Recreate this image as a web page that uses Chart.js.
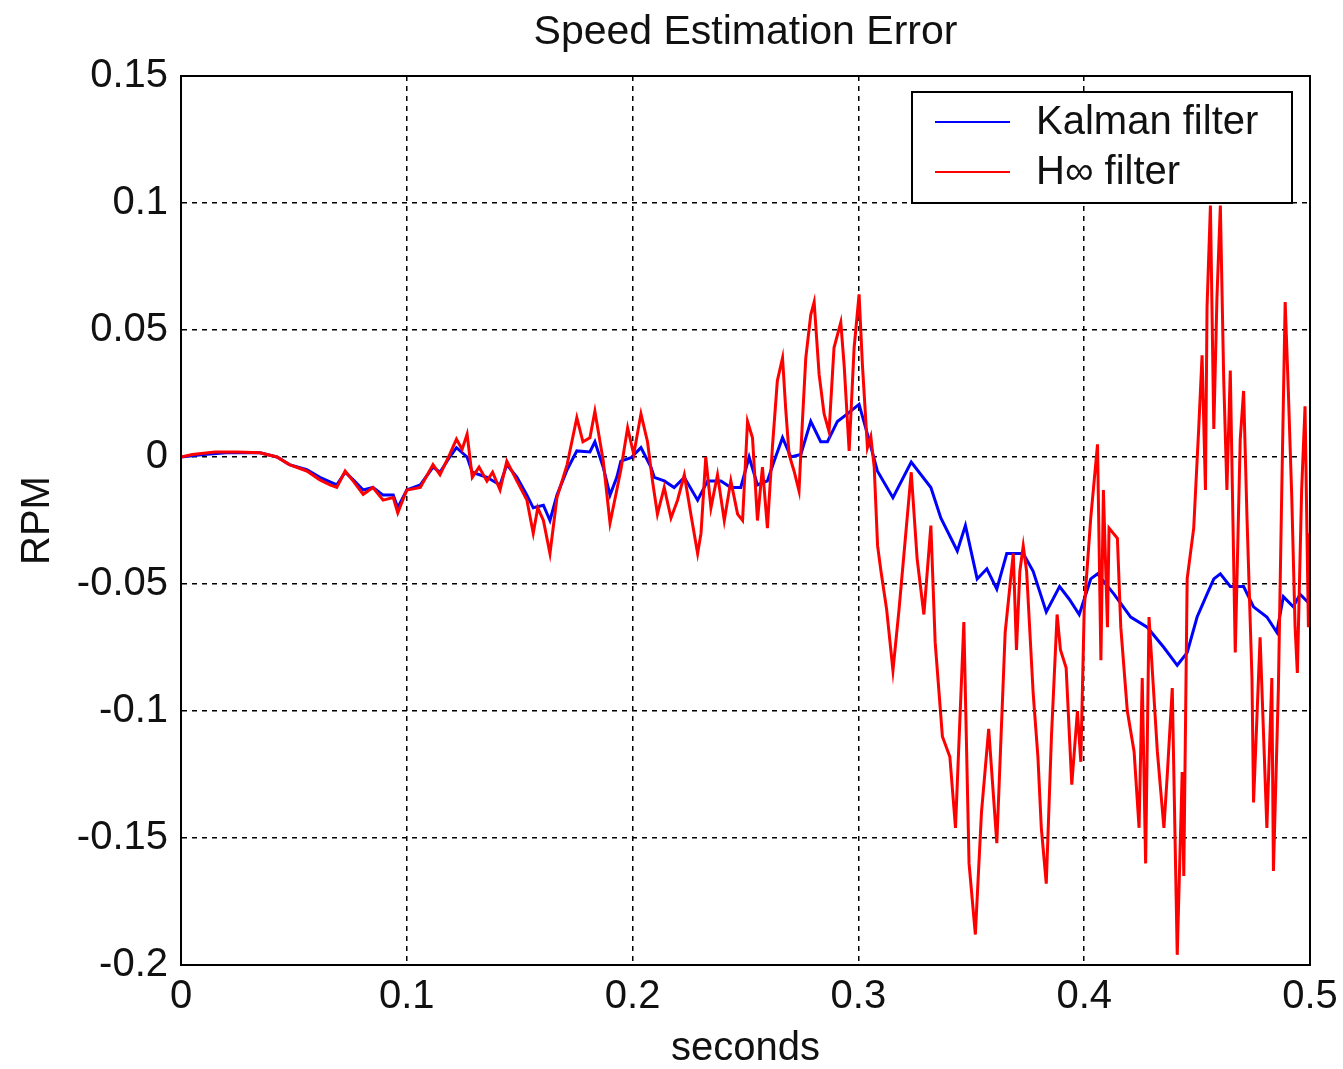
<!DOCTYPE html>
<html>
<head>
<meta charset="utf-8">
<script src="https://cdn.jsdelivr.net/npm/chart.js@4.4.1/dist/chart.umd.min.js"></script>
<style>
  html, body { margin: 0; padding: 0; background: #ffffff; }
  #wrap { width: 1343px; height: 1069px; }
</style>
</head>
<body>
<div id="wrap"><canvas id="c" width="1343" height="1069"></canvas></div>
<script>
const chartTitle = 'Speed Estimation Error';
const xAxisTitle = 'seconds';
const yAxisTitle = 'RPM';
const seriesNames = ['Kalman filter', 'H\u221E filter'];

const xTickValues = [0, 0.1, 0.2, 0.3, 0.4, 0.5];
const xTickLabels = ['0', '0.1', '0.2', '0.3', '0.4', '0.5'];
const yTickValues = [-0.2, -0.15, -0.1, -0.05, 0, 0.05, 0.1, 0.15];
const yTickLabels = ['-0.2', '-0.15', '-0.1', '-0.05', '0', '0.05', '0.1', '0.15'];

const kalmanTime = [0, 0.01, 0.02, 0.035, 0.0425, 0.048, 0.0557, 0.0615, 0.069, 0.0727, 0.0763, 0.0807, 0.085, 0.0895, 0.094, 0.096, 0.1, 0.106, 0.1116, 0.1147, 0.119, 0.122, 0.1267, 0.129, 0.1355, 0.1413, 0.1443, 0.1488, 0.1532, 0.156, 0.1605, 0.1634, 0.1665, 0.171, 0.1753, 0.1811, 0.1833, 0.187, 0.19, 0.193, 0.1948, 0.1993, 0.2037, 0.2081, 0.2096, 0.214, 0.2184, 0.2229, 0.2288, 0.2332, 0.2391, 0.2435, 0.2479, 0.2516, 0.2553, 0.2597, 0.2627, 0.2664, 0.2701, 0.2745, 0.2789, 0.2833, 0.2863, 0.2907, 0.2951, 0.3003, 0.304, 0.3084, 0.3153, 0.3234, 0.3321, 0.3365, 0.3438, 0.3474, 0.3526, 0.3569, 0.3613, 0.3657, 0.373, 0.3774, 0.3832, 0.3891, 0.3934, 0.3978, 0.4, 0.4029, 0.4059, 0.4132, 0.4206, 0.4279, 0.4353, 0.4412, 0.4456, 0.45, 0.4544, 0.4574, 0.4603, 0.4647, 0.4706, 0.475, 0.4809, 0.4853, 0.4882, 0.4926, 0.4956, 0.5];
const kalmanErr = [0, 0.001, 0.0017, 0.0017, 0, -0.003, -0.005, -0.008, -0.011, -0.006, -0.009, -0.013, -0.012, -0.015, -0.015, -0.02, -0.013, -0.011, -0.004, -0.006, 0, 0.0037, 0, -0.006, -0.008, -0.011, -0.003, -0.008, -0.015, -0.02, -0.019, -0.025, -0.015, -0.005, 0.0024, 0.002, 0.006, -0.004, -0.015, -0.008, -0.0016, -0.0003, 0.0037, -0.004, -0.008, -0.0094, -0.012, -0.008, -0.017, -0.0094, -0.0094, -0.012, -0.012, 0, -0.011, -0.0094, -0.0016, 0.0076, 0, 0.001, 0.014, 0.006, 0.006, 0.014, 0.017, 0.0207, 0.009, -0.0055, -0.016, -0.002, -0.012, -0.024, -0.037, -0.027, -0.048, -0.044, -0.052, -0.038, -0.038, -0.045, -0.061, -0.051, -0.056, -0.062, -0.056, -0.048, -0.046, -0.054, -0.063, -0.067, -0.075, -0.082, -0.077, -0.063, -0.054, -0.048, -0.046, -0.051, -0.051, -0.059, -0.063, -0.069, -0.055, -0.059, -0.054, -0.058];

const hinfTime = [0, 0.005, 0.015, 0.025, 0.035, 0.0425, 0.048, 0.0557, 0.0615, 0.066, 0.069, 0.0727, 0.0763, 0.0807, 0.085, 0.0895, 0.094, 0.096, 0.1, 0.106, 0.1116, 0.1147, 0.119, 0.122, 0.1245, 0.1267, 0.129, 0.132, 0.1355, 0.138, 0.1413, 0.1443, 0.1488, 0.1532, 0.156, 0.158, 0.1605, 0.1634, 0.1665, 0.171, 0.1753, 0.178, 0.1811, 0.1833, 0.187, 0.19, 0.193, 0.1948, 0.1978, 0.2005, 0.2037, 0.2066, 0.2088, 0.211, 0.214, 0.217, 0.2199, 0.2229, 0.2258, 0.2288, 0.2303, 0.2324, 0.2347, 0.2376, 0.2406, 0.2435, 0.2465, 0.2487, 0.2509, 0.2531, 0.2553, 0.2575, 0.2597, 0.2619, 0.2641, 0.2664, 0.2678, 0.2693, 0.2715, 0.2737, 0.2752, 0.2767, 0.2789, 0.2804, 0.2826, 0.2848, 0.287, 0.2892, 0.2922, 0.2937, 0.2959, 0.2981, 0.3003, 0.3018, 0.304, 0.3055, 0.307, 0.3085, 0.31, 0.3125, 0.3153, 0.318, 0.321, 0.3234, 0.326, 0.329, 0.3321, 0.334, 0.3372, 0.3405, 0.343, 0.3467, 0.349, 0.3518, 0.3545, 0.3577, 0.3613, 0.365, 0.3672, 0.3686, 0.37, 0.3715, 0.373, 0.3745, 0.3774, 0.3795, 0.381, 0.3832, 0.3855, 0.388, 0.3895, 0.392, 0.3945, 0.397, 0.3985, 0.4, 0.4029, 0.4059, 0.4074, 0.4085, 0.4103, 0.411, 0.4147, 0.4162, 0.4191, 0.4221, 0.4243, 0.4257, 0.4272, 0.4287, 0.4324, 0.4353, 0.4368, 0.439, 0.4412, 0.4434, 0.4441, 0.4456, 0.4485, 0.4507, 0.4522, 0.4537, 0.4544, 0.4559, 0.4574, 0.4588, 0.4603, 0.4618, 0.4632, 0.4647, 0.4669, 0.4691, 0.4706, 0.4721, 0.4743, 0.475, 0.4779, 0.4809, 0.4831, 0.4838, 0.486, 0.4875, 0.489, 0.4904, 0.4919, 0.4934, 0.4944, 0.4963, 0.4978, 0.4993, 0.5];
const hinfErr = [0, 0.001, 0.002, 0.002, 0.0017, 0, -0.003, -0.0055, -0.009, -0.011, -0.012, -0.0055, -0.0095, -0.0147, -0.012, -0.017, -0.016, -0.022, -0.013, -0.012, -0.003, -0.007, 0.001, 0.007, 0.003, 0.009, -0.008, -0.004, -0.0095, -0.006, -0.013, -0.0016, -0.0095, -0.017, -0.03, -0.02, -0.025, -0.038, -0.016, -0.003, 0.0155, 0.006, 0.0076, 0.018, -0.0016, -0.026, -0.013, -0.005, 0.0115, 0.001, 0.017, 0.006, -0.0094, -0.0225, -0.012, -0.024, -0.017, -0.007, -0.0225, -0.038, -0.03, 0, -0.02, -0.007, -0.025, -0.0094, -0.0225, -0.025, 0.014, 0.0076, -0.025, -0.004, -0.028, 0.0037, 0.03, 0.039, 0.019, 0.001, -0.0055, -0.0134, 0.014, 0.039, 0.056, 0.061, 0.0325, 0.017, 0.01, 0.043, 0.053, 0.036, 0.0024, 0.043, 0.064, 0.036, 0.0037, 0.008, -0.004, -0.035, -0.045, -0.06, -0.084, -0.06, -0.03, -0.006, -0.04, -0.062, -0.027, -0.073, -0.11, -0.118, -0.146, -0.065, -0.16, -0.188, -0.14, -0.107, -0.152, -0.069, -0.05, -0.038, -0.076, -0.045, -0.035, -0.045, -0.093, -0.118, -0.146, -0.168, -0.11, -0.062, -0.076, -0.083, -0.129, -0.1, -0.12, -0.06, -0.024, 0.005, -0.08, -0.013, -0.067, -0.028, -0.032, -0.067, -0.1, -0.116, -0.146, -0.087, -0.16, -0.063, -0.116, -0.146, -0.125, -0.091, -0.196, -0.124, -0.165, -0.048, -0.028, 0.011, 0.04, -0.013, 0.059, 0.099, 0.011, 0.063, 0.099, 0.03, -0.013, 0.034, -0.077, 0.007, 0.026, -0.024, -0.087, -0.136, -0.071, -0.146, -0.087, -0.163, -0.091, -0.013, 0.061, 0.026, -0.015, -0.067, -0.085, -0.013, 0.02, -0.067, -0.03];

const seriesColors = ['#0000ff', '#ff0000'];
const FONT = "'Liberation Sans', Arial, Helvetica, sans-serif";
const TEXT = '#111111';

function toPoints(ts, vs) { return ts.map((t, i) => ({ x: t, y: vs[i] })); }

const frameLegendPlugin = {
  id: 'frameLegend',
  afterDraw(chart) {
    const { ctx, chartArea: a } = chart;
    ctx.save();
    // title centred over the plot area
    ctx.fillStyle = TEXT;
    ctx.font = '41px ' + FONT;
    ctx.textAlign = 'center';
    ctx.textBaseline = 'middle';
    ctx.fillText(chartTitle, (a.left + a.right) / 2, 33);
    // axes box
    ctx.strokeStyle = '#000';
    ctx.lineWidth = 2;
    ctx.strokeRect(a.left, a.top, a.right - a.left, a.bottom - a.top);
    // legend box
    const bx = a.right - 398, by = a.top + 16, bw = 380, bh = 111;
    ctx.fillStyle = '#fff';
    ctx.fillRect(bx, by, bw, bh);
    ctx.lineWidth = 2;
    ctx.strokeRect(bx, by, bw, bh);
    const rows = [by + 30, by + 80];
    chart.data.datasets.forEach((ds, i) => {
      ctx.strokeStyle = ds.borderColor;
      ctx.lineWidth = 2;
      ctx.beginPath();
      ctx.moveTo(bx + 23, rows[i]);
      ctx.lineTo(bx + 98, rows[i]);
      ctx.stroke();
      ctx.fillStyle = TEXT;
      ctx.font = '40px ' + FONT;
      ctx.textBaseline = 'middle';
      ctx.textAlign = 'left';
      ctx.fillText(ds.label, bx + 124, rows[i] + 1);
    });
    ctx.restore();
  }
};

new Chart(document.getElementById('c'), {
  type: 'line',
  data: {
    datasets: [
      { label: seriesNames[0], data: toPoints(kalmanTime, kalmanErr), borderColor: seriesColors[0], borderWidth: 3, pointRadius: 0, tension: 0, order: 1 },
      { label: seriesNames[1], data: toPoints(hinfTime, hinfErr), borderColor: seriesColors[1], borderWidth: 3, pointRadius: 0, tension: 0, order: 0 }
    ]
  },
  options: {
    responsive: false,
    animation: false,
    devicePixelRatio: 1,
    layout: { padding: { left: 0, right: 33, top: 76, bottom: 0 } },
    plugins: {
      legend: { display: false },
      tooltip: { enabled: false },
      title: { display: false }
    },
    scales: {
      x: {
        type: 'linear', min: 0, max: 0.5,
        afterBuildTicks: (s) => { s.ticks = xTickValues.map(v => ({ value: v })); },
        afterFit: (s) => { s.height = 104; s.paddingLeft = 0; s.paddingRight = 0; },
        ticks: { color: TEXT, font: { family: FONT, size: 40 }, padding: 8, maxRotation: 0, autoSkip: false,
          callback: (v, i) => xTickLabels[i] },
        grid: { color: '#000', lineWidth: 1.5, drawTicks: false },
        border: { display: true, color: '#000', width: 2, dash: [5, 5] },
        title: { display: true, text: xAxisTitle, color: TEXT, font: { family: FONT, size: 40, lineHeight: 1 }, padding: { top: 0, bottom: 0 } }
      },
      y: {
        type: 'linear', min: -0.2, max: 0.15,
        afterBuildTicks: (s) => { s.ticks = yTickValues.map(v => ({ value: v })); },
        afterFit: (s) => { s.width = 181; s.paddingTop = 0; s.paddingBottom = 0; },
        ticks: { color: TEXT, font: { family: FONT, size: 40 }, padding: 13, autoSkip: false,
          callback: (v, i) => yTickLabels[i] },
        grid: { color: '#000', lineWidth: 1.5, drawTicks: false },
        border: { display: true, color: '#000', width: 2, dash: [5, 5] },
        title: { display: true, text: yAxisTitle, color: TEXT, font: { family: FONT, size: 40, lineHeight: 1 }, padding: { top: 18, bottom: 0 } }
      }
    }
  },
  plugins: [frameLegendPlugin]
});
</script>
</body>
</html>
